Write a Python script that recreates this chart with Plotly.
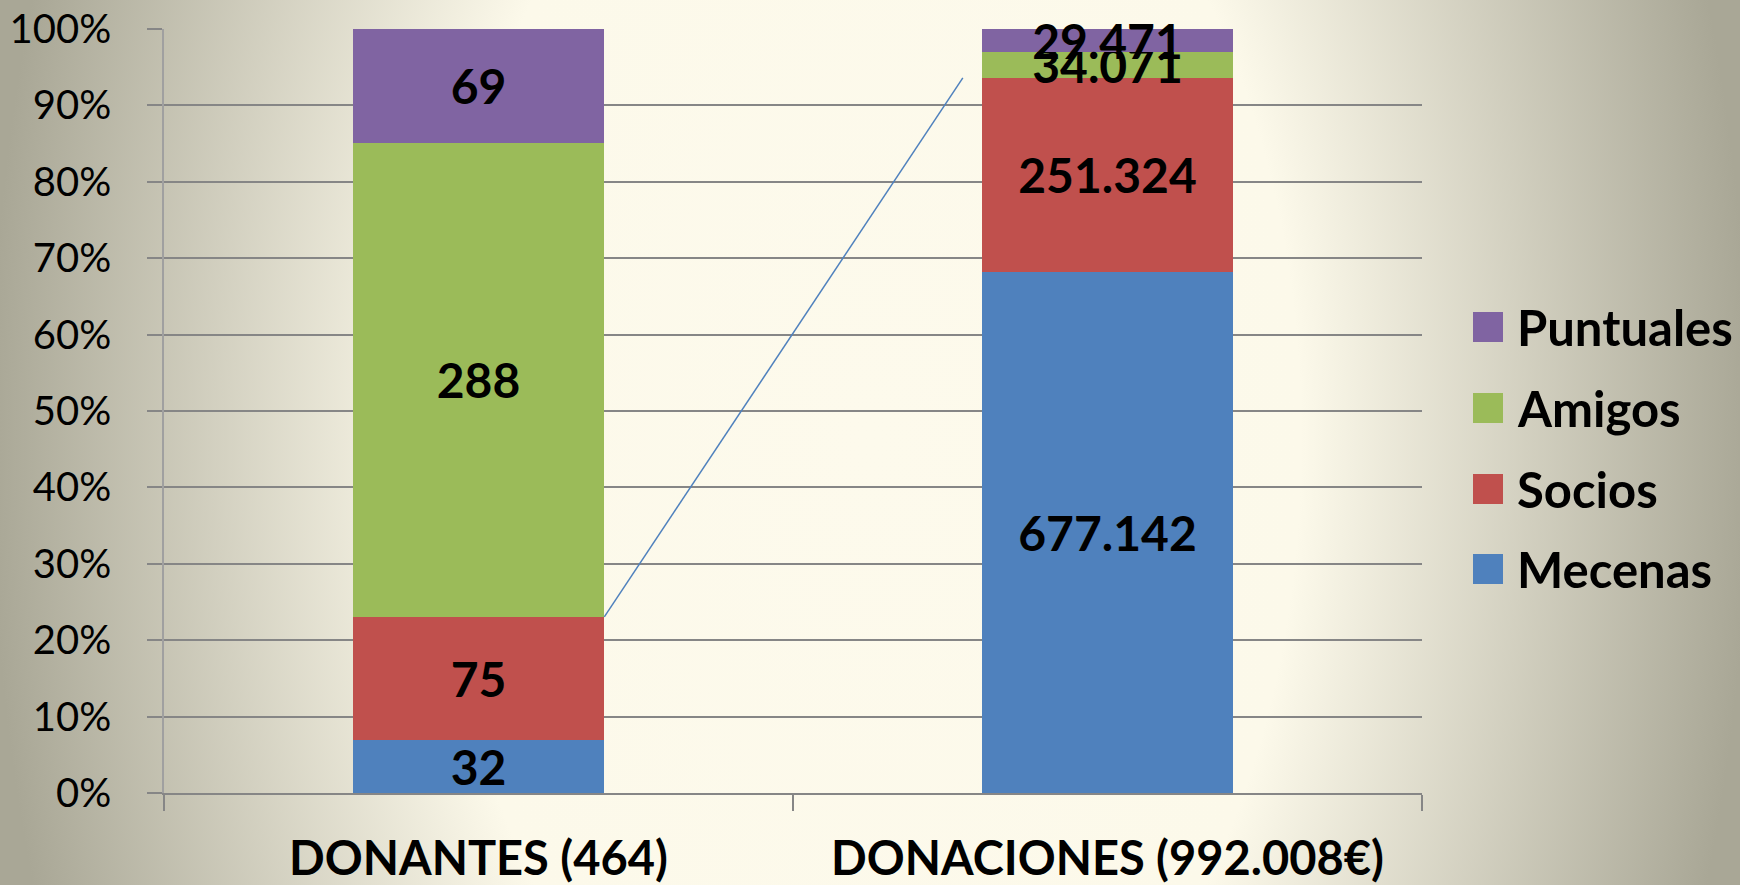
import base64
import plotly.graph_objects as go

# ---- data ----
categories = ["DONANTES (464)", "DONACIONES (992.008€)"]
series_names = ["Mecenas", "Socios", "Amigos", "Puntuales"]
mecenas = [32, 677142]
socios = [75, 251324]
amigos = [288, 34071]
puntuales = [69, 29471]
series_values = [mecenas, socios, amigos, puntuales]
series_colors = ["#4F81BD", "#C0504D", "#9BBB59", "#8064A2"]
y_ticks = list(range(0, 101, 10))

# ---- layout geometry (pixels) ----
W, H = 1740, 885
ML, MR, MT, MB = 164, 318, 29, 92
PW, PH = W - ML - MR, H - MT - MB
BAR_WIDTH = 0.4


def fmt(v):
    return f"{v:,}".replace(",", ".")


def px_x(px):
    return (px - ML) / PW


def px_y(py):
    return 1 - (py - MT) / PH


fig = go.Figure()
for name, vals, col in zip(series_names, series_values, series_colors):
    fig.add_trace(go.Bar(
        x=categories, y=vals, name=name,
        marker=dict(color=col, line=dict(width=0)),
        width=BAR_WIDTH,
        text=[fmt(v) for v in vals],
        textposition="inside", insidetextanchor="middle", textangle=0,
        constraintext="none", cliponaxis=False,
        textfont=dict(family="Lato", size=48, color="black", weight="bold"),
        showlegend=False,
    ))

# connector line between the two columns (top of Mecenas+Socios share)
tot = [sum(s[i] for s in series_values) for i in range(2)]
cum = [(mecenas[i] + socios[i]) / tot[i] * 100 for i in range(2)]
fig.add_shape(type="line", xref="x", yref="y",
              x0=0 + BAR_WIDTH / 2, y0=cum[0],
              x1=1 - BAR_WIDTH / 2 - 0.03, y1=cum[1],
              line=dict(color="#4F81BD", width=1.5), layer="above")

# manual legend (reverse order)
legend_rows_y = [327, 408, 489, 569]
for ry, name, col in zip(legend_rows_y, series_names[::-1], series_colors[::-1]):
    fig.add_shape(type="rect", xref="paper", yref="paper",
                  x0=px_x(1473), x1=px_x(1503),
                  y0=px_y(ry + 15), y1=px_y(ry - 15),
                  fillcolor=col, line=dict(width=0), layer="above")
    fig.add_annotation(xref="paper", yref="paper", x=px_x(1515), y=px_y(ry),
                       xanchor="left", yanchor="middle", showarrow=False,
                       text=name,
                       font=dict(family="Lato", size=49, color="black", weight="bold"))

# radial gradient background
svg = f'''<svg xmlns="http://www.w3.org/2000/svg" width="{W}" height="{H}" viewBox="0 0 {W} {H}" preserveAspectRatio="none">
<defs><radialGradient id="g" gradientUnits="userSpaceOnUse" cx="870" cy="440" r="880"
 gradientTransform="translate(870 440) scale(1 1.64) translate(-870 -440)">
<stop offset="0" stop-color="#fdfaec"/>
<stop offset="0.49" stop-color="#fcf9ea"/>
<stop offset="1" stop-color="#a9a796"/>
</radialGradient></defs>
<rect x="0" y="0" width="{W}" height="{H}" fill="url(#g)"/>
</svg>'''
src = "data:image/svg+xml;base64," + base64.b64encode(svg.encode()).decode()
fig.add_layout_image(dict(source=src, xref="paper", yref="paper",
                          x=px_x(0), y=px_y(0), sizex=W / PW, sizey=H / PH,
                          xanchor="left", yanchor="top", sizing="stretch",
                          layer="below"))

fig.update_layout(
    width=W, height=H, autosize=False,
    margin=dict(l=ML, r=MR, t=MT, b=MB, pad=0),
    barmode="stack", barnorm="percent",
    paper_bgcolor="#e8e5d5", plot_bgcolor="rgba(0,0,0,0)",
    uniformtext=dict(minsize=48, mode="show"),
    showlegend=False,
    separators=",.",
)
fig.update_xaxes(
    type="category", showgrid=False, zeroline=False,
    showline=True, linecolor="#868686", linewidth=2,
    ticks="outside", tickson="boundaries", ticklen=16, tickwidth=1.5, tickcolor="#868686",
    tickfont=dict(family="Lato", size=47, color="black", weight="bold"),
    ticklabelstandoff=24, automargin=False,
)
fig.update_yaxes(
    range=[0, 100], tickvals=y_ticks, ticktext=[f"{t}%" for t in y_ticks],
    showgrid=True, gridcolor="#868686", gridwidth=2, zeroline=False,
    showline=True, linecolor="#a0a0a0", linewidth=1.5,
    ticks="outside", ticklen=15, tickwidth=2, tickcolor="#868686",
    tickfont=dict(family="Lato", size=40, color="black"),
    ticklabelstandoff=28, automargin=False,
)

fig.write_html(
    "out.html",
    config={"displayModeBar": False},
    post_script="document.body.style.margin='0';document.body.style.overflow='hidden';",
)
